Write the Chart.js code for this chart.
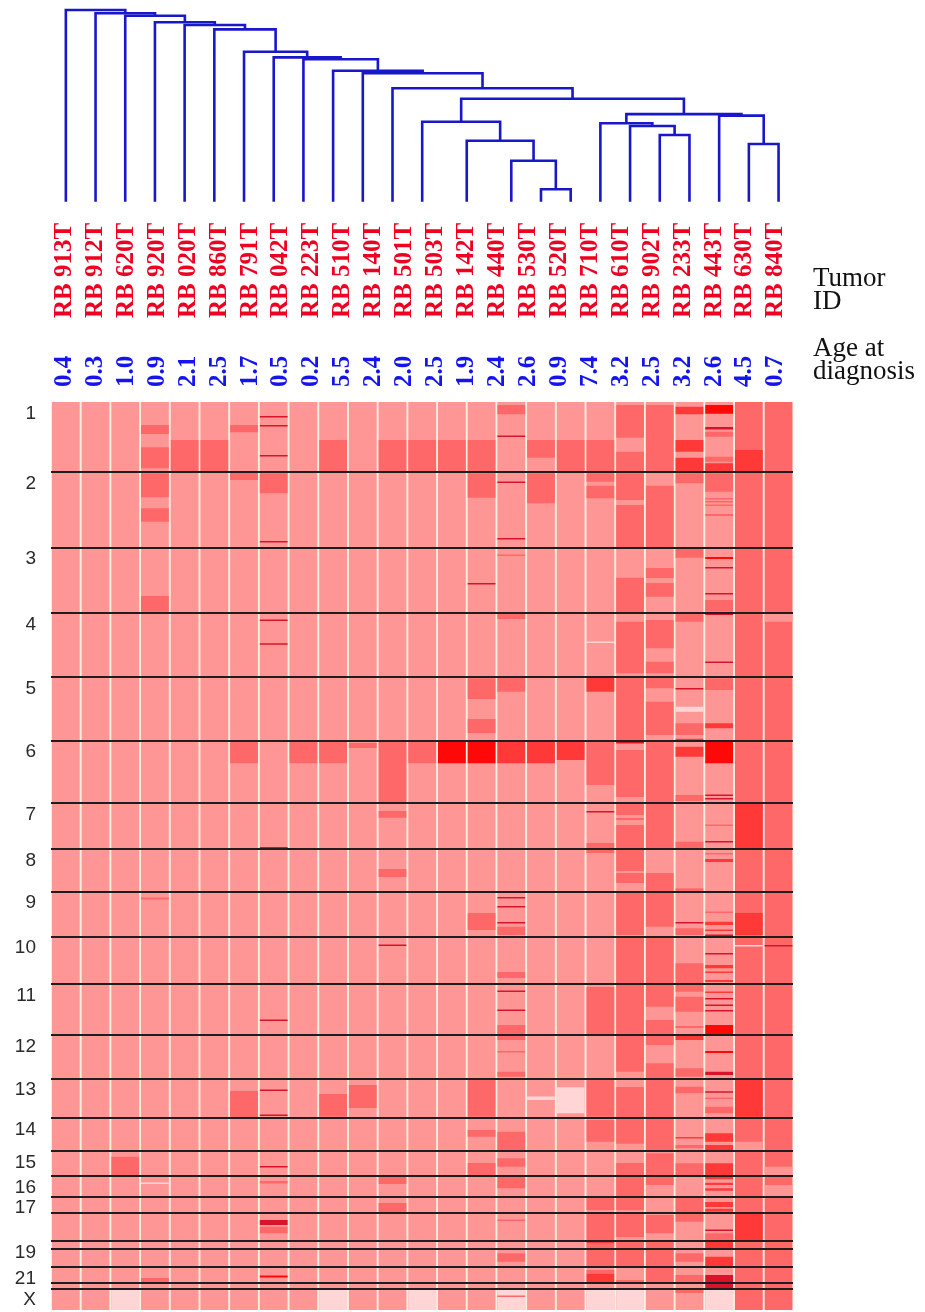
<!DOCTYPE html>
<html lang="en">
<head>
<meta charset="UTF-8">
<title>Retinoblastoma CGH heatmap</title>
<script src="https://cdn.jsdelivr.net/npm/chart.js@4.4.1/dist/chart.umd.min.js"></script>
<style>
  html, body { margin:0; padding:0; background:#fff; }
  #wrap { position:relative; width:925px; height:1312px; overflow:hidden; }
  canvas { position:absolute; left:0; top:0; }
  .side { position:absolute; left:813px; font:27px/23.3px "Liberation Serif", "Times New Roman", serif; color:#111; }
</style>
</head>
<body>
<div id="wrap">
  <canvas id="heat" width="925" height="1312"></canvas>
  <canvas id="tree" width="925" height="210"></canvas>
  <div class="side" style="top:266px">Tumor<br>ID</div>
  <div class="side" style="top:336px">Age at<br>diagnosis</div>
</div>
<script>
// ---- data ----
var tumorIds = ['RB 913T','RB 912T','RB 620T','RB 920T','RB 020T','RB 860T','RB 791T','RB 042T',
  'RB 223T','RB 510T','RB 140T','RB 501T','RB 503T','RB 142T','RB 440T','RB 530T','RB 520T',
  'RB 710T','RB 610T','RB 902T','RB 233T','RB 443T','RB 630T','RB 840T'];
var ages = ['0.4','0.3','1.0','0.9','2.1','2.5','1.7','0.5','0.2','5.5','2.4','2.0','2.5','1.9',
  '2.4','2.6','0.9','7.4','3.2','2.5','3.2','2.6','4.5','0.7'];

// chromosomes (relative number of clones on the array)
var chromNames = ['1','2','3','4','5','6','7','8','9','10','11','12','13','14','15','16','17','18','19','20','21','22','X'];
var chromSizes = [70,75.7,65.6,63.7,63.7,62.3,46,42.7,45,47.6,51,43.4,39.6,32.7,25,20.7,16.6,28,8,17.7,16,5.7,21.3];
var shownChroms = ['1','2','3','4','5','6','7','8','9','10','11','12','13','14','15','16','17','19','21','X'];

// copy number level -> colour (0 loss ... 5 high gain, 6 focal high)
var levelColors = ['#FFD5D5','#FF9696','#FF8080','#FF6868','#FF3838','#FF0808','#D8142A'];

// one profile per heatmap column: background level + [start, end, level] segments
var baseLevel = [1,1,1,1,1,1,1,1,1,1,1,1,1,1,1,1,1,1,1,1,1,1,1,3,3];
var segments = [
  [],
  [],
  [[754.7,773,3],[888,908,0]],
  [[23,32,3],[45.3,66.3,3],[71.3,95.3,3],[106.3,119.7,3],[194,209.7,3],[495.5,497.5,3],[780.5,782,0],[876,881,3]],
  [[38,70,3]],
  [[38,70,3]],
  [[23,30.3,3],[69,78,3],[339.7,361.3,3],[689,715.7,3]],
  [[14,15.5,6],[23,24.5,6],[53,54.5,6],[71.3,91.3,3],[139,140.5,6],[217.5,219,6],[241.3,242.8,6],[445,446.5,6],
   [617.5,619,6],[687.5,689,6],[712.5,714,6],[764,765.5,6],[779,781.5,3],[818,823,6],[824.7,831.3,3],[873.5,875.5,5]],
  [[339.7,361.3,3]],
  [[38,70,3],[339.7,361.3,3],[692,714.7,3],[888,908,0]],
  [[341,346,3],[683,706,3]],
  [[38,70,3],[340,400,3],[409,415.7,3],[467,475,3],[542.5,544,6],[774.7,782,3],[801,810.7,3]],
  [[38,70,3],[339.7,361.3,3],[888,908,0]],
  [[38,70,3],[339.7,361.3,5]],
  [[38,70,3],[71.3,95.7,3],[181,182.5,6],[276.3,297,3],[317,331,3],[339.7,361.3,5],[511,528,3],[678,714.7,3],
   [728,734.7,3],[761,773,3]],
  [[3,12.3,3],[33.5,35,6],[79.5,81,6],[136,137.5,6],[152.5,154,3],[211.3,217,3],[276,289.7,3],[339.7,361.3,4],
   [495,496.5,6],[504,505.5,6],[520,521.5,6],[524.7,533,3],[570,576,3],[588.5,590,6],[607.5,609,6],[623,638,3],
   [649,650.5,3],[669.7,674.7,3],[729.7,748,3],[756.3,764.7,3],[774.7,786.3,3],[817.5,819,3],[851.3,859.7,3],
   [888,908,0],[893.5,895,3]],
  [[38,55.7,3],[71.3,101.3,3],[339.7,361.3,4],[694.5,698,0]],
  [[38,70,3],[339.7,358,4],[685.3,711.3,0]],
  [[38,70,3],[71.3,79.7,3],[83.7,96.3,3],[239.5,241,0],[276,289.7,4],[339.7,383,3],[409,410.5,6],[441,451,3],
   [585,633.3,3],[678,714.7,3],[718,739.7,3],[794.7,808,3],[811.3,838,3],[838,841,4],[841,847.3,3],[847.3,865,3],
   [868,871.7,3],[871.7,880,4],[886.7,908,0]],
  [[3,35.7,3],[49.7,70,3],[71.3,98,3],[103,145.7,3],[175.7,211.3,3],[219.7,271.3,3],[275,338.7,3],[340,341.5,6],
   [348,395,3],[401,413,3],[416,418,3],[423,446,3],[448,469,3],[471,481,3],[491,533,3],[535,581,3],[583,633.3,3],
   [633.3,669.7,3],[685,716.3,3],[716.3,741.7,3],[761,774,3],[774,794.7,3],[794.7,808,3],[811.3,835,3],
   [839.3,847.3,3],[847.3,865,3],[878,881,3],[886.7,908,0]],
  [[3,70,3],[83.7,145.7,3],[166,176,3],[181,194.7,3],[218,246.3,3],[259.7,271.3,3],[276,286.3,3],[299.7,333,3],
   [340,400,3],[401,446,3],[471,489.7,3],[491,524.7,3],[535,581,3],[583,604.7,3],[618,633.3,3],[633.3,643,3],
   [661.3,676.7,3],[676.7,716.3,3],[716.3,749,3],[751.3,774,3],[774,783,3],[813,831.3,3],[839.3,847.3,3],
   [847.3,865,3],[865,881,3]],
  [[4.7,12.3,4],[38,49.7,4],[55.7,70,4],[71.3,81.3,3],[145.7,155.7,3],[211.3,219.7,3],[286,287.5,6],[304.7,309.7,0],
   [321.3,333,3],[336.7,340,4],[344.7,354.7,4],[393,399,3],[439.7,446,3],[486.3,489.7,3],[520,521.5,6],[526.3,533,3],
   [561.3,581,3],[583,589.7,3],[594.7,609.7,3],[624,626,3],[633.3,638,4],[666.3,674.7,3],[684.7,691.3,3],
   [735,736.5,4],[743,746.3,3],[761.3,774,3],[794.7,810,3],[811.3,819.7,3],[851.3,859.7,3],[873,881,3],[886.7,891,3]],
  [[3,11.7,5],[25,27.5,6],[29.7,34.7,3],[54.7,59.7,3],[61.3,69,4],[71.3,89.7,3],[96,97.5,3],[99,100.5,3],
   [102.5,104,3],[112,114,3],[155,157,5],[165,166.5,6],[191,192.5,6],[198,209.7,3],[210,213,6],[259.5,261,6],
   [276.3,288,3],[321.3,326.3,4],[338.7,361.3,5],[392.5,394,6],[396,397.5,6],[422.5,424,3],[439,440.5,6],
   [451,452.5,3],[457,460,4],[509.5,511,3],[519.7,523,4],[527.5,529,4],[532.5,534,6],[551,552.5,6],[563,566.3,4],
   [569.5,571,4],[578,580,4],[589.5,591,4],[596,597.5,6],[602.5,604,6],[608,609.5,6],[623,633.3,5],[649,651,5],
   [669.7,673,6],[689.2,690.7,6],[695.5,697,3],[704.7,711.3,3],[731.3,739.7,4],[743,749,4],[761.3,774,4],
   [774.7,777.3,4],[780.7,783,4],[786.3,788.7,4],[800,805,4],[806.7,809.7,4],[827.5,829,6],[831.3,838,3],
   [839.3,847.3,4],[854.7,864.7,4],[873,886.7,6],[886.7,908,0]],
  [[48,70,4],[401,446,4],[511,533,4],[543,544.5,0],[678,714.7,4],[739.7,749,1],[811.3,839.3,4]],
  [[211.3,219.7,1],[543,544.5,6],[764.7,774,1],[783,794.7,1]]
];

// dendrogram: leaf positions (in heatmap column units) and merges [a, b, height]
// a/b < 24 are leaves, >= 24 are earlier merges
var leafPos = [0,1,2,3,4,5,6,7,8,9,10,11,12,13.5,15,16,17,18,19,20,21,22,23,24];
var merges = [
  [15,16,0.065],[14,24,0.214],[13,25,0.318],[12,26,0.417],
  [19,20,0.348],[18,28,0.395],[17,29,0.409],[22,23,0.301],[21,31,0.449],[30,32,0.457],
  [27,33,0.537],[11,34,0.592],[10,35,0.670],[9,36,0.683],[8,37,0.743],[7,38,0.753],
  [6,39,0.782],[5,40,0.899],[4,41,0.922],[3,42,0.936],[2,43,0.970],[1,44,0.983],[0,45,1.0]
];

// ---- heatmap ----
var nCol = segments.length;
var chromStart = [], acc = 0;
chromSizes.forEach(function(s){ chromStart.push(acc); acc += s; });
var genomeEnd = acc;
var bounds = chromStart.slice(1);
var labelPos = [], labelText = [];
chromNames.forEach(function(n, i){
  if (shownChroms.indexOf(n) >= 0) { labelPos.push(chromStart[i] + 11.5); labelText.push(n); }
});

var nLayer = 0;
segments.forEach(function(s){ nLayer = Math.max(nLayer, s.length); });

var datasets = [{
  label: 'base',
  data: segments.map(function(s, i){ return {x: i + 0.5, y: [0, genomeEnd]}; }),
  backgroundColor: baseLevel.map(function(l){ return levelColors[l]; }),
  order: nLayer + 1
}];
for (var k = 0; k < nLayer; k++) {
  var pts = [], cols = [];
  segments.forEach(function(s, i){
    if (s[k]) { pts.push({x: i + 0.5, y: [s[k][0], s[k][1]]}); cols.push(levelColors[s[k][2]]); }
  });
  datasets.push({label: 'seg' + k, data: pts, backgroundColor: cols, order: nLayer - k});
}

var gapFill = {
  id: 'gapFill',
  beforeDatasetsDraw: function(c){
    var a = c.chartArea, ctx = c.ctx;
    ctx.save();
    ctx.fillStyle = '#F7EFE0';
    ctx.fillRect(a.left, a.top, a.right - a.left, a.bottom - a.top);
    ctx.restore();
  }
};

var serifBold = {family: '"Liberation Serif", "Times New Roman", serif', size: 25, weight: 'bold'};

new Chart(document.getElementById('heat').getContext('2d'), {
  type: 'bar',
  data: { datasets: datasets },
  plugins: [gapFill],
  options: {
    responsive: false,
    animation: false,
    devicePixelRatio: 1,
    layout: { padding: {top: 205, right: 131.6, bottom: 2, left: 0} },
    plugins: { legend: {display: false}, tooltip: {enabled: false} },
    datasets: { bar: { barPercentage: 1, categoryPercentage: 0.935, grouped: false, borderWidth: 0 } },
    scales: {
      x: { type: 'linear', min: 0, max: nCol, offset: false, display: false, ticks: {stepSize: 1} },
      ids: {
        type: 'category', labels: tumorIds, position: 'top', weight: 10, offset: true,
        grid: {display: false, drawTicks: false}, border: {display: false},
        ticks: {autoSkip: false, minRotation: 90, maxRotation: 90, padding: 12, labelOffset: 28,
          color: '#EE0022', font: serifBold},
        afterFit: function(s){ s.height = 125; }
      },
      ages: {
        type: 'category', labels: ages, position: 'top', weight: 1, offset: true,
        grid: {display: false, drawTicks: false}, border: {display: false},
        ticks: {autoSkip: false, minRotation: 90, maxRotation: 90, padding: 15, labelOffset: 28,
          color: '#1414EE', font: serifBold},
        afterFit: function(s){ s.height = 72; }
      },
      y: {
        type: 'linear', reverse: true, min: 0, max: genomeEnd, position: 'right',
        grid: {color: '#1e1e1e', lineWidth: 2, drawTicks: false, z: 1}, border: {display: false},
        ticks: {display: false},
        afterBuildTicks: function(s){ s.ticks = bounds.map(function(v){ return {value: v}; }); },
        afterFit: function(s){ s.width = 0; s.paddingTop = 0; s.paddingBottom = 0; }
      },
      chr: {
        type: 'linear', reverse: true, min: 0, max: genomeEnd, position: 'left',
        grid: {display: false, drawTicks: false}, border: {display: false},
        ticks: {
          autoSkip: false, padding: 15, color: '#2a2a2a',
          font: {family: '"Liberation Sans", Arial, sans-serif', size: 19},
          callback: function(v, i){ return labelText[i]; }
        },
        afterBuildTicks: function(s){ s.ticks = labelPos.map(function(v){ return {value: v}; }); },
        afterFit: function(s){ s.width = 51; s.paddingTop = 0; s.paddingBottom = 0; }
      }
    }
  }
});

// ---- dendrogram ----
var nodeX = leafPos.map(function(p){ return p + 0.5; });
var nodeH = leafPos.map(function(){ return 0; });
var links = [];
merges.forEach(function(m){
  var xa = nodeX[m[0]], xb = nodeX[m[1]];
  links.push({
    data: [{x: xa, y: nodeH[m[0]]}, {x: xa, y: m[2]}, {x: xb, y: m[2]}, {x: xb, y: nodeH[m[1]]}],
    showLine: true, borderColor: '#1818C8', borderWidth: 2.6, pointRadius: 0, clip: false, tension: 0
  });
  nodeX.push((xa + xb) / 2);
  nodeH.push(m[2]);
});

new Chart(document.getElementById('tree').getContext('2d'), {
  type: 'scatter',
  data: { datasets: links },
  options: {
    responsive: false,
    animation: false,
    devicePixelRatio: 1,
    layout: { padding: {top: 10, right: 131.6, bottom: 8.3, left: 51} },
    plugins: { legend: {display: false}, tooltip: {enabled: false} },
    scales: {
      x: { type: 'linear', min: 0, max: nCol, display: false },
      y: { type: 'linear', min: 0, max: 1, display: false }
    }
  }
});
</script>
</body>
</html>
